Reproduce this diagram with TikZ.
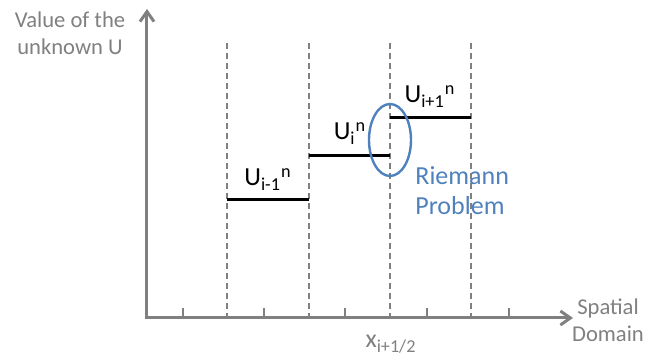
\documentclass[tikz,border=0pt]{standalone}
\usepackage{fontspec}
\setmainfont{Carlito}
\usetikzlibrary{arrows.meta, shapes.geometric}

\definecolor{axisgray}{HTML}{808080}
\definecolor{riemblue}{HTML}{4F81BD}

\begin{document}
\begin{tikzpicture}[
    x=0.5pt, y=-0.5pt,
    axis/.style={draw=axisgray, line width=1.5pt, line join=miter,
                 {Straight Barb[length=5pt, width=7pt]}-{Straight Barb[length=5pt, width=7pt]}},
    tick/.style={draw=axisgray, line width=1pt},
    cell/.style={draw=axisgray, line width=0.75pt, dash pattern=on 3pt off 2pt},
    level/.style={draw=black, line width=1.5pt},
    lbl/.style={font=\fontsize{13}{15}\selectfont, inner sep=0pt, anchor=base},
    axlbl/.style={font=\fontsize{11.3}{13.5}\selectfont, text=axisgray, inner sep=0pt, align=center, anchor=base},
]
\useasboundingbox (0,0) rectangle (645,358);

% Axes
\coordinate (origin) at (147,318);
\coordinate (ytip) at (147,9);
\coordinate (xtip) at (573,318);
\draw[axis] (ytip) -- (origin) -- (xtip);

% Ticks and cell edges
\foreach \x in {183,264,345,427,509}
    \draw[tick] (\x,308) -- (\x,318);
\foreach \x in {227,309,390,471}
    \draw[cell] (\x,43) -- (\x,318);

% Cell values
\draw[level] (227,200) -- (309,200);
\draw[level] (309,156) -- (390,156);
\draw[level] (390,118) -- (471,118);

\node[lbl] (uim) at (268,186) {U\textsubscript{i-1}\textsuperscript{n}};
\node[lbl] (ui) at (350,140) {U\textsubscript{i}\textsuperscript{n}};
\node[lbl] (uip) at (430,103) {U\textsubscript{i+1}\textsuperscript{n}};

% Riemann problem at the interface
\node[draw=riemblue, line width=1.2pt, ellipse, inner sep=0pt,
      minimum width=21pt, minimum height=36pt] (rp) at (390,140) {};
\node[font=\fontsize{13}{15}\selectfont, text=riemblue, inner sep=0pt,
      align=left, anchor=base west] (rtext) at (415,215) {Riemann\\Problem};

% Axis labels (base is the last line)
\node[axlbl] (ylabel) at (70,55) {Value of the\\unknown U};
\node[axlbl] (xlabel) at (608,342) {Spatial\\Domain};
\node[axlbl, font=\fontsize{13}{15}\selectfont] (xhalf) at (391,348) {x\textsubscript{i+1/2}};

\end{tikzpicture}
\end{document}
